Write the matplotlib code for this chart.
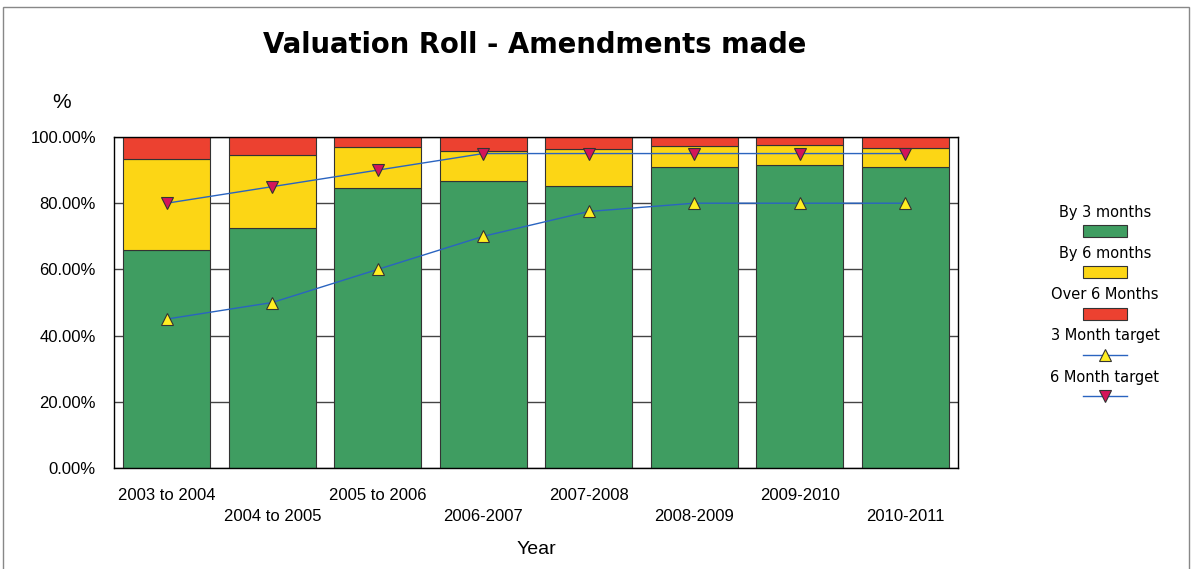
import matplotlib
matplotlib.use("Agg")
import matplotlib.pyplot as plt
from matplotlib.patches import Rectangle
from matplotlib.lines import Line2D
import numpy as np

years = ["2003 to 2004", "2004 to 2005", "2005 to 2006", "2006-2007",
         "2007-2008", "2008-2009", "2009-2010", "2010-2011"]
by_3_months = [66.0, 72.5, 84.6, 86.8, 85.3, 90.8, 91.5, 90.8]
by_6_months = [27.4, 22.1, 12.4, 9.0, 11.0, 6.5, 6.1, 6.0]
over_6_months = [6.6, 5.4, 3.0, 4.2, 3.7, 2.7, 2.4, 3.2]
target_3_month = [45, 50, 60, 70, 77.5, 80, 80, 80]
target_6_month = [80, 85, 90, 95, 95, 95, 95, 95]

GREEN = "#3f9d61"
YELLOW = "#fcd615"
RED = "#ec4130"
LINE = "#2a64c0"
PINK = "#d4145a"

fig = plt.figure(figsize=(11.94, 5.69), dpi=100)
ax = fig.add_axes([114 / 1194, 1 - 468 / 569, 844 / 1194, 331 / 569])

x = np.arange(len(years))
w = 0.82
b1 = np.array(by_3_months)
b2 = b1 + np.array(by_6_months)
ax.bar(x, by_3_months, w, color=GREEN, edgecolor="#333333", linewidth=0.8, zorder=2)
ax.bar(x, by_6_months, w, bottom=b1, color=YELLOW, edgecolor="#333333", linewidth=0.8, zorder=2)
ax.bar(x, over_6_months, w, bottom=b2, color=RED, edgecolor="#333333", linewidth=0.8, zorder=2)

ax.plot(x, target_3_month, color=LINE, lw=1, marker="^", markersize=9,
        markerfacecolor="#ffee22", markeredgecolor="#333333", markeredgewidth=0.8, zorder=3)
ax.plot(x, target_6_month, color=LINE, lw=1, marker="v", markersize=9,
        markerfacecolor=PINK, markeredgecolor="#333333", markeredgewidth=0.8, zorder=3)

ax.set_xlim(-0.5, 7.5)
ax.set_ylim(0, 100)
ax.set_yticks([0, 20, 40, 60, 80, 100])
ax.set_yticklabels(["0.00%", "20.00%", "40.00%", "60.00%", "80.00%", "100.00%"],
                   family="Liberation Sans", fontsize=12)
ax.yaxis.grid(True, color="#444444", lw=1, zorder=0)
ax.set_axisbelow(True)
ax.tick_params(axis="y", length=0, pad=13)
for s in ax.spines.values():
    s.set_color("black")
    s.set_linewidth(1)

# staggered x labels
ax.set_xticks(x[::2])
ax.set_xticklabels(years[::2], family="Liberation Sans", fontsize=12)
ax.set_xticks(x[1::2], minor=True)
ax.set_xticklabels(years[1::2], minor=True, family="Liberation Sans", fontsize=12)
ax.tick_params(axis="x", which="major", length=0, pad=20)
ax.tick_params(axis="x", which="minor", length=0, pad=35)
for t in ax.get_xticklabels():
    t.set_verticalalignment("center")
for t in ax.get_xticklabels(minor=True):
    t.set_verticalalignment("center")

ax.set_xlabel("Year", family="Liberation Sans", fontsize=14, labelpad=12)
fig.text(535 / 1194, 1 - 45 / 569, "Valuation Roll - Amendments made",
         ha="center", va="center", fontsize=19.8, fontweight="bold")
fig.text(62 / 1194, 1 - 103 / 569, "%", ha="center", va="center",
         fontsize=15, family="Liberation Sans")

# legend: label above its key
entries = [("By 3 months", "patch", GREEN),
           ("By 6 months", "patch", YELLOW),
           ("Over 6 Months", "patch", RED),
           ("3 Month target", "^", "#ffee22"),
           ("6 Month target", "v", PINK)]
W, H = 1194, 569
for i, (lab, kind, col) in enumerate(entries):
    ty = 212 + i * 41.3
    fig.text(1105 / W, 1 - ty / H, lab, ha="center", va="center", fontsize=10.5)
    ky = ty + 19
    if kind == "patch":
        fig.patches.append(Rectangle((1083 / W, 1 - (ky + 6) / H), 44 / W, 12 / H,
                                     transform=fig.transFigure, facecolor=col,
                                     edgecolor="#333333", lw=0.8))
    else:
        fig.lines.append(Line2D([1083 / W, 1127 / W], [1 - ky / H, 1 - ky / H],
                                transform=fig.transFigure, color=LINE, lw=1))
        fig.lines.append(Line2D([1105 / W], [1 - ky / H], transform=fig.transFigure,
                                marker=kind, markersize=9, markerfacecolor=col,
                                markeredgecolor="#333333", markeredgewidth=0.8, lw=0))

fig.patches.append(Rectangle((3 / W, -0.02), 1186 / W, 1 - 7 / H + 0.02,
                             transform=fig.transFigure, fill=False,
                             edgecolor="#888888", lw=1))

fig.savefig("out.png", dpi=100)
